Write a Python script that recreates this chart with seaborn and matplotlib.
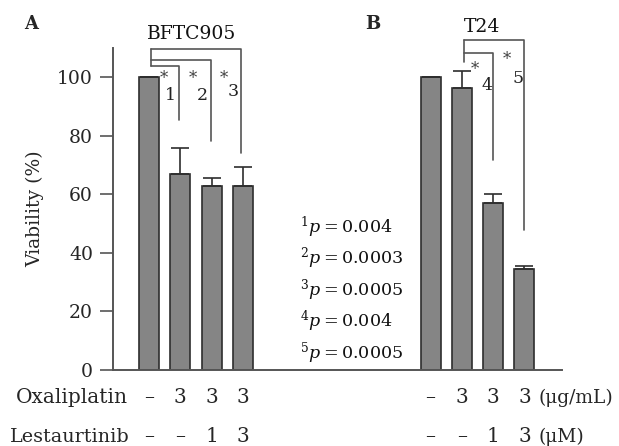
import numpy as np
import pandas as pd
import matplotlib
matplotlib.use("Agg")
import matplotlib.pyplot as plt
import matplotlib.transforms as mtransforms
import seaborn as sns

# ---- data ----
positions = [0, 1, 2, 3, 9, 10, 11, 12]
cell_line = ["BFTC905"] * 4 + ["T24"] * 4
viability = [100, 67, 63, 63, 100, 96.5, 57, 34.5]
sem = [0, 9, 2.7, 6.2, 0, 5.5, 3, 1]
oxaliplatin = ["–", "3", "3", "3", "–", "3", "3", "3"]
lestaurtinib = ["–", "–", "1", "3", "–", "–", "1", "3"]
pvalues = ["0.004", "0.0003", "0.0005", "0.004", "0.0005"]
yticks = [0, 20, 40, 60, 80, 100]

df = pd.DataFrame({"pos": positions, "viability": viability, "sem": sem,
                   "line": cell_line})

sns.set_style("white")
plt.rcParams["font.family"] = ["DejaVu Serif"]
plt.rcParams["mathtext.fontset"] = "dejavuserif"

fig = plt.figure(figsize=(6.19, 4.46), dpi=100)
ax = fig.add_axes([113 / 619, 1 - 370 / 446, (562 - 113) / 619, (370 - 48) / 446])

bar_color = "#858585"
edge = "#2e2e2e"
sns.barplot(data=df, x="pos", y="viability", native_scale=True, width=0.64,
            color=bar_color, saturation=1, edgecolor=edge, linewidth=1.2,
            errorbar=None, ax=ax)
ax.errorbar(df["pos"], df["viability"],
            yerr=[np.zeros(len(df)), df["sem"]], fmt="none",
            ecolor=edge, elinewidth=1.2, capsize=6.3, capthick=1.2)

ax.set_xlim(-1.15, 13.2)
ax.set_ylim(0, 110)
ax.set_yticks(yticks)
ax.set_yticklabels([str(v) for v in yticks], fontsize=13.5)
ax.set_xticks([])
ax.set_xlabel("")
ax.set_ylabel("Viability (%)", fontsize=13.5, labelpad=9)
for s in ["top", "right"]:
    ax.spines[s].set_visible(False)
for s in ["left", "bottom"]:
    ax.spines[s].set_color("#555555")
    ax.spines[s].set_linewidth(1.4)
ax.tick_params(axis="y", length=9.4, width=1.2, color="#555555", pad=5,
               left=True)

# ---- significance brackets ----
bc = "#555555"
lw = 1.2
def bracket(x0, x1, ytop, yend):
    ax.plot([x0, x1, x1], [ytop, ytop, yend], color=bc, lw=lw, clip_on=False)

# A
ax.plot([0.05, 0.05], [109.6, 103.8], color=bc, lw=lw, clip_on=False)
bracket(0.05, 0.95, 103.8, 85.3)
bracket(0.05, 1.98, 105.8, 78.2)
bracket(0.05, 2.93, 109.6, 74.1)
# B
ax.plot([10.06, 10.06], [112.6, 105.1], color=bc, lw=lw, clip_on=False)
bracket(10.06, 11.0, 108.3, 71.9)
bracket(10.06, 12.0, 112.6, 47.8)

star_kw = dict(color="#444444", fontsize=12, ha="center", va="center")
num_kw = dict(color="#222222", fontsize=12.5, ha="center", va="center")
for (sx, sy), (nx, ny), lab in [((0.48, 99.5), (0.68, 93.9), "1"),
                                ((1.41, 99.5), (1.70, 93.9), "2"),
                                ((2.40, 99.5), (2.68, 95.2), "3"),
                                ((10.42, 102.6), (10.80, 97.3), "4"),
                                ((11.44, 106.0), (11.79, 99.7), "5")]:
    ax.text(sx, sy, "*", **star_kw)
    ax.text(nx, ny, lab, **num_kw)

# titles
ax.text(1.37, 113.0, "BFTC905", fontsize=13.5, ha="center", va="baseline",
        color="#111111", clip_on=False)
ax.text(10.64, 115.4, "T24", fontsize=13.5, ha="center", va="baseline",
        color="#111111", clip_on=False)
fig.text(24 / 619, 1 - 29 / 446, "A", fontsize=13, fontweight="bold",
         va="baseline", ha="left")
fig.text(365 / 619, 1 - 29 / 446, "B", fontsize=13, fontweight="bold",
         va="baseline", ha="left")

# p-values
ycent = [227, 258.5, 290, 321.5, 353]
for i, (pv, yc) in enumerate(zip(pvalues, ycent)):
    fig.text(300 / 619, 1 - yc / 446, rf"$^{{{i + 1}}}p$" + "\u2009=\u2009" + pv,
             fontsize=12.6, ha="left", va="center", color="#111111")

# treatment rows
trans = mtransforms.blended_transform_factory(ax.transData, fig.transFigure)
row1_y = 1 - 403 / 446
row2_y = 1 - 442 / 446
for x, o, l in zip(positions, oxaliplatin, lestaurtinib):
    ax.text(x, row1_y, o, transform=trans, fontsize=14.5, ha="center",
            va="baseline", clip_on=False)
    ax.text(x, row2_y, l, transform=trans, fontsize=14.5, ha="center",
            va="baseline", clip_on=False)
fig.text(128 / 619, row1_y, "Oxaliplatin", fontsize=14.5, ha="right", va="baseline")
fig.text(130 / 619, row2_y, "Lestaurtinib", fontsize=13.8, ha="right", va="baseline")
fig.text(538 / 619, row1_y, "(μg/mL)", fontsize=13.4, ha="left", va="baseline")
fig.text(538 / 619, row2_y, "(μM)", fontsize=13.4, ha="left", va="baseline")

fig.savefig("out.png", dpi=100)
